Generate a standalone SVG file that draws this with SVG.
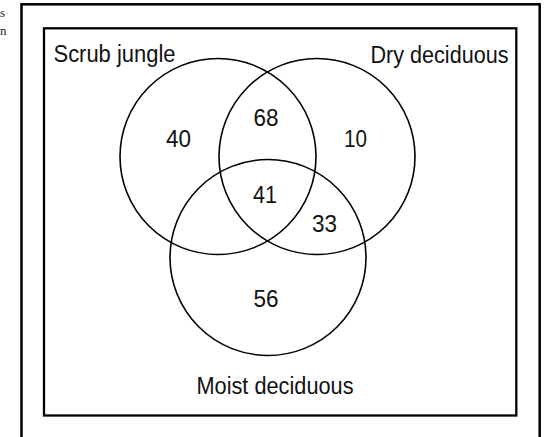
<svg xmlns="http://www.w3.org/2000/svg" width="548" height="437" viewBox="0 0 548 437">
  <style>
    .frame { fill: none; stroke: #000; }
    .set { fill: none; stroke: #000; stroke-width: 1.6; }
    .label { font-family: "Liberation Sans", Arial, sans-serif; font-size: 23px; fill: #111; }
    .count { font-family: "Liberation Sans", Arial, sans-serif; font-size: 24.5px; fill: #111; text-anchor: middle; }
    .margin { font-family: "Liberation Serif", "Times New Roman", serif; font-size: 13px; fill: #222; }
  </style>
  <rect width="548" height="437" fill="#fff"/>

  <!-- text from the neighbouring column -->
  <g id="margin-text">
    <text class="margin" x="0" y="17">s</text>
    <text class="margin" x="0" y="35">n</text>
  </g>

  <!-- frames -->
  <g id="frames">
    <rect class="frame" x="21.5" y="4.3" width="518.2" height="470" stroke-width="2.5"/>
    <rect class="frame" x="44" y="28.3" width="472.3" height="387.2" stroke-width="2.3"/>
  </g>

  <!-- forest type sets -->
  <g id="scrub-jungle">
    <circle class="set" cx="218" cy="156.5" r="98"/>
    <text class="label" x="53.5" y="62" textLength="122" lengthAdjust="spacingAndGlyphs">Scrub jungle</text>
  </g>
  <g id="dry-deciduous">
    <circle class="set" cx="317" cy="156.5" r="98"/>
    <text class="label" x="370.5" y="62.5" textLength="138" lengthAdjust="spacingAndGlyphs">Dry deciduous</text>
  </g>
  <g id="moist-deciduous">
    <circle class="set" cx="268" cy="257.5" r="98"/>
    <text class="label" x="196.5" y="393.5" textLength="157" lengthAdjust="spacingAndGlyphs">Moist deciduous</text>
  </g>

  <!-- region counts -->
  <g id="counts">
    <text class="count" x="178.5" y="147" textLength="25" lengthAdjust="spacingAndGlyphs">40</text>
    <text class="count" x="266" y="126" textLength="25" lengthAdjust="spacingAndGlyphs">68</text>
    <text class="count" x="355.5" y="147" textLength="23" lengthAdjust="spacingAndGlyphs">10</text>
    <text class="count" x="265" y="203" textLength="24" lengthAdjust="spacingAndGlyphs">41</text>
    <text class="count" x="324.5" y="232" textLength="25" lengthAdjust="spacingAndGlyphs">33</text>
    <text class="count" x="266" y="307" textLength="25" lengthAdjust="spacingAndGlyphs">56</text>
  </g>

  <g id="connectors"/>
</svg>
